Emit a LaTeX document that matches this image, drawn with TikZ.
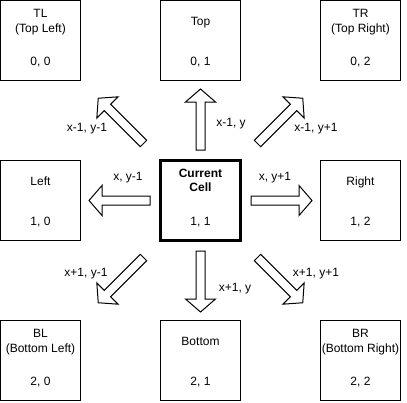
\documentclass[tikz,border=0pt]{standalone}
\usepackage{fontspec}
\setmainfont{Liberation Sans}
\usetikzlibrary{calc}
\tikzset{
  cell/.style={draw, line width=1pt, minimum size=80pt, inner sep=0pt},
  curcell/.style={draw, line width=3pt, minimum size=80pt, inner sep=0pt},
  txt/.style={inner sep=0pt, text height=8.6pt, text depth=0pt, font=\fontsize{12}{14}\selectfont},
  boldtxt/.style={txt, font=\fontsize{12}{14}\selectfont\bfseries},
  pics/blockarrow/.style={code={
    \draw[line width=1pt, line join=miter, fill=white]
      (0,-4.5) -- (#1-13,-4.5) -- (#1-13,-15) -- (#1,0) -- (#1-13,15)
      -- (#1-13,4.5) -- (0,4.5) -- cycle;}}
}
\begin{document}
\begin{tikzpicture}[x=1pt,y=-1pt]
\useasboundingbox (0,0) rectangle (407,402);
% boxes
\node[cell] (tl) at (40.5,40.5) {};
\node[cell] (tp) at (200.5,40.5) {};
\node[cell] (tr) at (360.5,40.5) {};
\node[cell] (lf) at (40.5,200.5) {};
\node[curcell] (cur) at (200.5,200.5) {};
\node[cell] (rt) at (360.5,200.5) {};
\node[cell] (bl) at (40.5,360.5) {};
\node[cell] (bm) at (200.5,360.5) {};
\node[cell] (br) at (360.5,360.5) {};
% texts
\node[txt] (tl1) at ($(tl.center)+(0,-27)$) {TL};
\node[txt] (tl2) at ($(tl.center)+(0,-12.5)$) {(Top Left)};
\node[txt] (tl3) at ($(tl.center)+(0,21)$) {0, 0};
\node[txt] (tp1) at ($(tp.center)+(0,-19.5)$) {Top};
\node[txt] (tp3) at ($(tp.center)+(0,21)$) {0, 1};
\node[txt] (tr1) at ($(tr.center)+(0,-27)$) {TR};
\node[txt] (tr2) at ($(tr.center)+(0,-12.5)$) {(Top Right)};
\node[txt] (tr3) at ($(tr.center)+(0,21)$) {0, 2};
\node[txt] (lf1) at ($(lf.center)+(0,-19.5)$) {Left};
\node[txt] (lf3) at ($(lf.center)+(0,21)$) {1, 0};
\node[boldtxt] (cu1) at ($(cur.center)+(0,-27)$) {Current};
\node[boldtxt] (cu2) at ($(cur.center)+(0,-13)$) {Cell};
\node[txt] (cu3) at ($(cur.center)+(0,21)$) {1, 1};
\node[txt] (rt1) at ($(rt.center)+(0,-19.5)$) {Right};
\node[txt] (rt3) at ($(rt.center)+(0,21)$) {1, 2};
\node[txt] (bl1) at ($(bl.center)+(0,-27)$) {BL};
\node[txt] (bl2) at ($(bl.center)+(0,-12.5)$) {(Bottom Left)};
\node[txt] (bl3) at ($(bl.center)+(0,21)$) {2, 0};
\node[txt] (bm1) at ($(bm.center)+(0,-19.5)$) {Bottom};
\node[txt] (bm3) at ($(bm.center)+(0,21)$) {2, 1};
\node[txt] (br1) at ($(br.center)+(0,-27)$) {BR};
\node[txt] (br2) at ($(br.center)+(0,-12.5)$) {(Bottom Right)};
\node[txt] (br3) at ($(br.center)+(0,21)$) {2, 2};
% block arrows from the current cell
\pic[rotate=90]  at ($(cur.center)+(0,-50.5)$) {blockarrow=61};
\pic[rotate=270] at ($(cur.center)+(0,50.5)$) {blockarrow=61};
\pic[rotate=180] at ($(cur.center)+(-50.5,0)$) {blockarrow=61};
\pic[rotate=0]   at ($(cur.center)+(50.5,0)$) {blockarrow=61};
\pic[rotate=135] at ($(cur.center)+(-57,-57)$) {blockarrow=64};
\pic[rotate=45]  at ($(cur.center)+(57,-57)$) {blockarrow=64};
\pic[rotate=225] at ($(cur.center)+(-57,57)$) {blockarrow=64};
\pic[rotate=315] at ($(cur.center)+(57,57)$) {blockarrow=64};
% arrow labels
\node[txt] (l1) at (87,127) {x-1, y-1};
\node[txt] (l2) at (231,122) {x-1, y};
\node[txt] (l3) at (316,127) {x-1, y+1};
\node[txt] (l4) at (128,176) {x, y-1};
\node[txt] (l5) at (275,176) {x, y+1};
\node[txt] (l6) at (86,272) {x+1, y-1};
\node[txt] (l7) at (235,287) {x+1, y};
\node[txt] (l8) at (316,272) {x+1, y+1};
\end{tikzpicture}
\end{document}
